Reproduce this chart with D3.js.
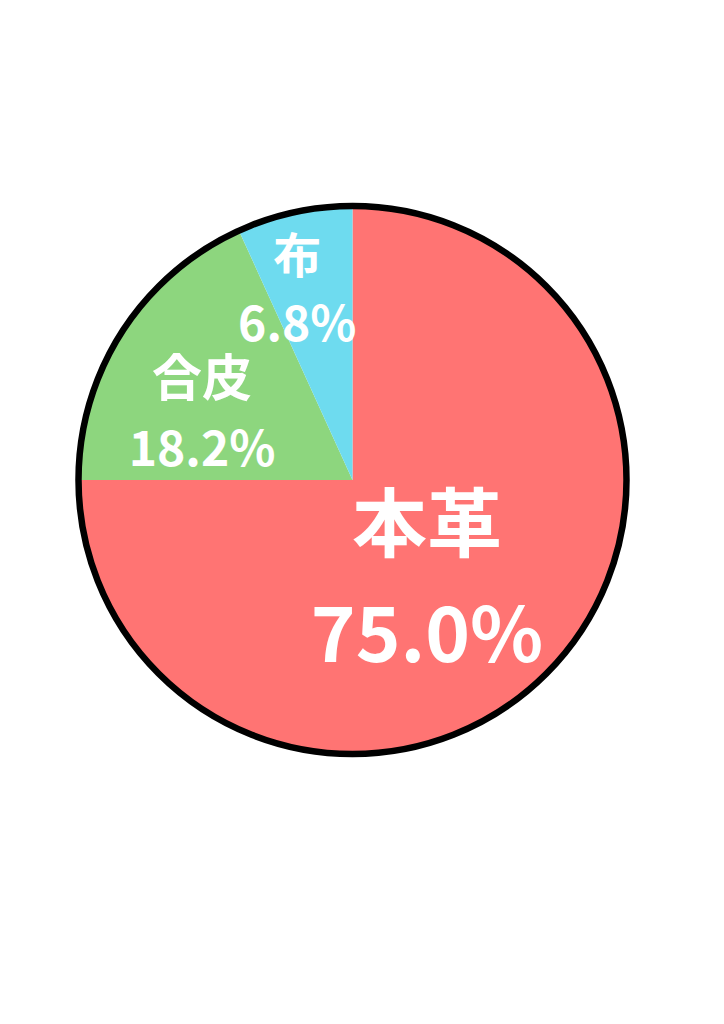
<!DOCTYPE html>
<html>
<head>
<meta charset="utf-8">
<script src="https://cdn.jsdelivr.net/npm/d3@7"></script>
<style>
  body { margin: 0; background: #fff; }
  text { font-family: "Noto Sans CJK JP", "Noto Sans", sans-serif; fill: #fff; }
</style>
</head>
<body>
<script>
var categories = ["本革", "合皮", "布"];
var values = [75.0, 18.2, 6.8];
var colors = ["#FF7473", "#8DD67E", "#6EDBEF"];

var width = 724, height = 1024;
var cx = 352.5, cy = 480, radius = 274;

// label placement per slice: radius fraction, angle nudge (deg), font sizes
var labelLayout = [
  {k: 0.455, shift: 8.3, name: 75, pct: 76, gap: 111},
  {k: 0.60, shift: -9, name: 50, pct: 48, gap: 70},
  {k: 0.72, shift: -4, name: 48, pct: 48, gap: 68}
];

var svg = d3.select("body").append("svg")
  .attr("width", width)
  .attr("height", height);

var g = svg.append("g")
  .attr("transform", "translate(" + cx + "," + cy + ")");

var data = categories.map(function(c, i) { return {name: c, value: values[i]}; });

var pie = d3.pie()
  .sort(null)
  .value(function(d) { return d.value; });

var arcs = pie(data);

var arc = d3.arc().innerRadius(0).outerRadius(radius);

g.selectAll(".slice")
  .data(arcs)
  .enter()
  .append("path")
  .attr("class", "slice")
  .attr("d", arc)
  .attr("fill", function(d, i) { return colors[i]; });

g.append("circle")
  .attr("r", radius)
  .attr("fill", "none")
  .attr("stroke", "#000")
  .attr("stroke-width", 6.5);

var label = g.selectAll(".label")
  .data(arcs)
  .enter()
  .append("g")
  .attr("class", "label")
  .attr("transform", function(d, i) {
    var L = labelLayout[i];
    var a = (d.startAngle + d.endAngle) / 2 + L.shift * Math.PI / 180;
    var r = L.k * radius;
    return "translate(" + (r * Math.sin(a)) + "," + (-r * Math.cos(a)) + ")";
  });

label.append("text")
  .attr("text-anchor", "middle")
  .attr("y", function(d, i) { return -labelLayout[i].gap / 2; })
  .attr("dy", "0.35em")
  .style("font-size", function(d, i) { return labelLayout[i].name + "px"; })
  .style("font-weight", 700)
  .text(function(d) { return d.data.name; });

label.append("text")
  .attr("text-anchor", "middle")
  .attr("y", function(d, i) { return labelLayout[i].gap / 2; })
  .attr("dy", "0.35em")
  .style("font-size", function(d, i) { return labelLayout[i].pct + "px"; })
  .style("font-weight", 700)
  .text(function(d) { return d.data.value.toFixed(1) + "%"; });
</script>
</body>
</html>
